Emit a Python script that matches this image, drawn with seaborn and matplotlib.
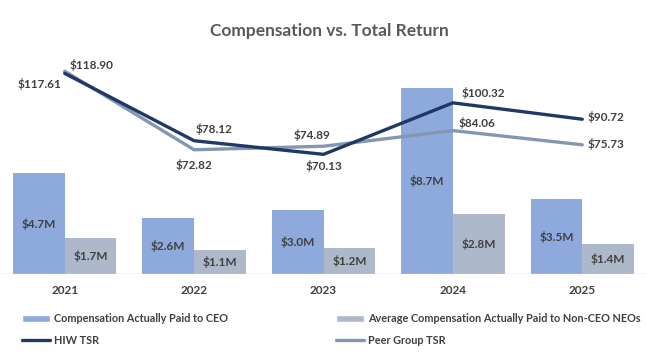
import numpy as np
import pandas as pd
import matplotlib
matplotlib.use("Agg")
import matplotlib.pyplot as plt
from matplotlib.patches import Patch
from matplotlib.lines import Line2D
import seaborn as sns

# chart data
years = ["2021", "2022", "2023", "2024", "2025"]
ceo_cap = [4.7, 2.6, 3.0, 8.7, 3.5]
neo_cap = [1.7, 1.1, 1.2, 2.8, 1.4]
hiw_tsr = [117.61, 78.12, 70.13, 100.32, 90.72]
peer_tsr = [118.90, 72.82, 74.89, 84.06, 75.73]

ceo_name = "Compensation Actually Paid to CEO"
neo_name = "Average Compensation Actually Paid to Non-CEO NEOs"
hiw_name = "HIW TSR"
peer_name = "Peer Group TSR"

# label offsets in pixels (dx, dy) for the TSR points
hiw_off = [(-25, -11), (20, 12), (0, -12), (30, 10), (24, 2)]
peer_off = [(27, 6), (0, -15), (-11, 11), (24, 8), (24, 1)]

sns.set_theme(style="white")
plt.rcParams["font.family"] = ["Lato", "DejaVu Sans"]

c_ceo = "#8EA9DB"
c_neo = "#ADB9CA"
c_hiw = "#1F3864"
c_peer = "#8497B0"
txt = "#404040"
fs = 8.5

df = pd.DataFrame({
    "year": years * 2,
    "value": ceo_cap + neo_cap,
    "series": [ceo_name] * len(years) + [neo_name] * len(years),
})

fig = plt.figure(figsize=(6.47, 3.61), dpi=100)
ax = fig.add_axes([0, 87 / 361, 1, 224 / 361])

sns.barplot(data=df, x="year", y="value", hue="series", palette=[c_ceo, c_neo],
            width=0.8, saturation=1, linewidth=0, ax=ax, legend=False)
for cont in ax.containers:
    ax.bar_label(cont, labels=[f"${v:.1f}M" for v in cont.datavalues],
                 label_type="center", fontsize=fs, fontweight="bold", color=txt)

ax.set_ylim(0, 224 / 21.4)
ax.set_xlim(-0.5, len(years) - 0.5)
ax.set_xlabel("")
ax.set_ylabel("")
ax.set_yticks([])
ax.tick_params(axis="x", length=0, pad=8, labelsize=fs, labelcolor=txt)
for lab in ax.get_xticklabels():
    lab.set_fontweight("bold")
for s in ax.spines.values():
    s.set_visible(False)
ax.axhline(0, color="#D9D9D9", linewidth=1)

ax2 = ax.twinx()
xpos = np.arange(len(years))
sns.lineplot(x=xpos, y=peer_tsr, color=c_peer, linewidth=2.4, ax=ax2)
sns.lineplot(x=xpos, y=hiw_tsr, color=c_hiw, linewidth=2.4, ax=ax2)
ax2.set_ylim(0, 224 / 1.706)
ax2.set_yticks([])
for s in ax2.spines.values():
    s.set_visible(False)

for i, v in enumerate(hiw_tsr):
    ax2.annotate(f"${v:.2f}", (xpos[i], v), xytext=hiw_off[i], textcoords="offset pixels",
                 ha="center", va="center", fontsize=fs, fontweight="bold", color=txt)
for i, v in enumerate(peer_tsr):
    ax2.annotate(f"${v:.2f}", (xpos[i], v), xytext=peer_off[i], textcoords="offset pixels",
                 ha="center", va="center", fontsize=fs, fontweight="bold", color=txt)

fig.text(329 / 647, 1 - 31 / 361, "Compensation vs. Total Return", ha="center", va="center",
         fontsize=12.5, fontweight="bold", color="#595959")

h1 = [Patch(facecolor=c_ceo, label=ceo_name), Line2D([], [], color=c_hiw, lw=2.4, label=hiw_name)]
h2 = [Patch(facecolor=c_neo, label=neo_name), Line2D([], [], color=c_peer, lw=2.4, label=peer_name)]
for handles, x0 in [(h1, 22 / 647), (h2, 336 / 647)]:
    leg = fig.legend(handles=handles, loc="upper left", bbox_to_anchor=(x0, 1 - 313 / 361),
                     frameon=False, fontsize=7.8, handlelength=2.6, handleheight=0.65,
                     handletextpad=0.4, labelspacing=1.0, borderaxespad=0, borderpad=0)
    for t in leg.get_texts():
        t.set_color(txt)
        t.set_fontweight("bold")

fig.savefig("out.png", dpi=100)
